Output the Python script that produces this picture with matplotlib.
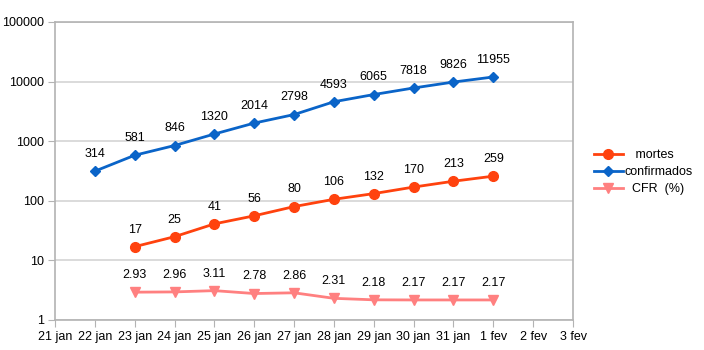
import matplotlib
matplotlib.use("Agg")
import matplotlib.pyplot as plt
import numpy as np
from matplotlib.ticker import FixedLocator, FixedFormatter, NullLocator

plt.rcParams['font.family'] = ['Liberation Sans', 'DejaVu Sans']

dates = ["21 jan", "22 jan", "23 jan", "24 jan", "25 jan", "26 jan", "27 jan",
         "28 jan", "29 jan", "30 jan", "31 jan", "1 fev", "2 fev", "3 fev"]
conf_dates = dates[1:12]
confirmados = [314, 581, 846, 1320, 2014, 2798, 4593, 6065, 7818, 9826, 11955]
mort_dates = dates[2:12]
mortes = [17, 25, 41, 56, 80, 106, 132, 170, 213, 259]
cfr = [2.93, 2.96, 3.11, 2.78, 2.86, 2.31, 2.18, 2.17, 2.17, 2.17]
cfr_labels = ["2.93", "2.96", "3.11", "2.78", "2.86", "2.31", "2.18", "2.17", "2.17", "2.17"]

fig = plt.figure(figsize=(7.04, 3.5), dpi=100)
ax = fig.add_axes([55/704, 30/350, (573-55)/704, (320-22)/350])

xi = {d: i for i, d in enumerate(dates)}
xc = [xi[d] for d in conf_dates]
xm = [xi[d] for d in mort_dates]

c_m = "#ff420e"
c_c = "#0a64c8"
c_f = "#ff8080"

ax.plot(xm, mortes, color=c_m, lw=2.0, marker="o", ms=7, label="   mortes", zorder=3)
ax.plot(xc, confirmados, color=c_c, lw=2.0, marker="D", ms=5.5, label="confirmados", zorder=3)
ax.plot(xm, cfr, color=c_f, lw=2.0, marker="v", ms=7, label="  CFR  (%)", zorder=3)

fs = 9
for x, v in zip(xc, confirmados):
    ax.annotate(str(v), (x, v), xytext=(0, 8), textcoords="offset points", ha="center", va="bottom", fontsize=fs)
for x, v in zip(xm, mortes):
    ax.annotate(str(v), (x, v), xytext=(0, 8), textcoords="offset points", ha="center", va="bottom", fontsize=fs)
for x, v, s in zip(xm, cfr, cfr_labels):
    ax.annotate(s, (x, v), xytext=(0, 8), textcoords="offset points", ha="center", va="bottom", fontsize=fs)

ax.set_yscale("log")
ax.set_ylim(1, 100000)
ax.set_xlim(0, len(dates) - 1)
yt = [1, 10, 100, 1000, 10000, 100000]
ax.yaxis.set_major_locator(FixedLocator(yt))
ax.yaxis.set_major_formatter(FixedFormatter([str(v) for v in yt]))
ax.yaxis.set_minor_locator(NullLocator())
ax.set_xticks(range(len(dates)))
ax.set_xticklabels(dates)
ax.tick_params(axis="both", labelsize=fs, color="#b3b3b3", length=5, direction="out", pad=3)
ax.grid(axis="y", color="#d4d4d4", lw=1.2)
ax.set_axisbelow(True)
for s in ax.spines.values():
    s.set_color("#b3b3b3")
    s.set_linewidth(1.2)

leg = fig.legend(loc="center left", bbox_to_anchor=(594/704, 1 - 172/350), frameon=False,
                 fontsize=fs, handlelength=2.3, handletextpad=0.15, labelspacing=0.4,
                 borderaxespad=0, borderpad=0)

fig.savefig("out.png", dpi=100)
